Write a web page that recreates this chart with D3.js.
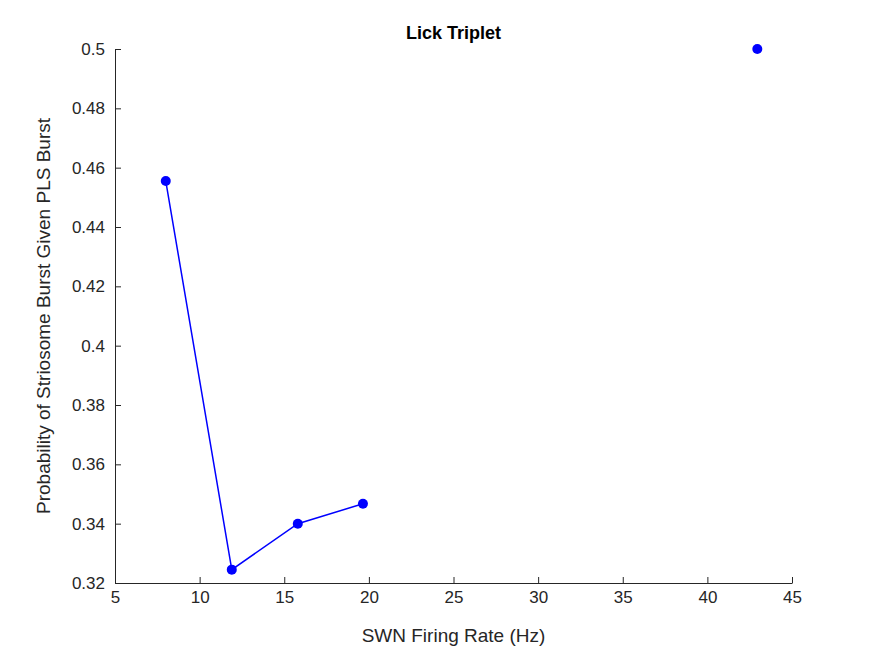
<html>
<head>
<script src="https://d3js.org/d3.v7.min.js"></script>
<style>
  body { margin: 0; background: #fff; }
  text { font-family: "Liberation Sans", Arial, sans-serif; fill: #262626; }
  .axis path, .axis line { stroke: #262626; }
  .axis text { font-size: 17px; font-family: "Liberation Sans", Arial, sans-serif; }
</style>
</head>
<body>
<div id="chart"></div>
<script>
// Data
const rates = [8.0, 11.9, 15.8, 19.65];
const probs = [0.4555, 0.3245, 0.340, 0.3467];
const loneRate = [42.95];
const loneProb = [0.5];
const xTicks = [5, 10, 15, 20, 25, 30, 35, 40, 45];
const yTicks = [0.32, 0.34, 0.36, 0.38, 0.4, 0.42, 0.44, 0.46, 0.48, 0.5];

const W = 875, H = 656;
const margin = { top: 49, right: 83, bottom: 73, left: 115 };
const w = W - margin.left - margin.right;
const h = H - margin.top - margin.bottom;

const x = d3.scaleLinear().domain([5, 45]).range([0, w]);
const y = d3.scaleLinear().domain([0.32, 0.5]).range([h, 0]);

const svg = d3.select('#chart').append('svg')
    .attr('width', W).attr('height', H);
const g = svg.append('g')
    .attr('transform', `translate(${margin.left},${margin.top})`);

// Axes, MATLAB style: ticks pointing inward
g.append('g').attr('class', 'axis')
    .attr('transform', `translate(0,${h})`)
    .attr('font-size', 17)
    .call(d3.axisBottom(x).tickValues(xTicks).tickSize(-6).tickPadding(8).tickSizeOuter(0));
g.append('g').attr('class', 'axis')
    .attr('font-size', 17)
    .call(d3.axisLeft(y).tickValues(yTicks).tickFormat(d => String(+d.toFixed(2))).tickSize(-6).tickPadding(10).tickSizeOuter(0));

// Line
const pts = rates.map((r, i) => [r, probs[i]]);
g.append('path')
    .datum(pts)
    .attr('fill', 'none')
    .attr('stroke', '#0000ff')
    .attr('stroke-width', 1.5)
    .attr('d', d3.line().x(d => x(d[0])).y(d => y(d[1])));

const all = pts.concat(loneRate.map((r, i) => [r, loneProb[i]]));
g.selectAll('circle')
    .data(all)
    .enter().append('circle')
    .attr('cx', d => x(d[0]))
    .attr('cy', d => y(d[1]))
    .attr('r', 5)
    .attr('fill', '#0000ff');

// Labels
svg.append('text')
    .attr('x', margin.left + w / 2).attr('y', 39)
    .attr('text-anchor', 'middle')
    .style('font-size', '18px').style('font-weight', 'bold')
    .style('fill', '#000')
    .text('Lick Triplet');
svg.append('text')
    .attr('x', margin.left + w / 2).attr('y', 642)
    .attr('text-anchor', 'middle')
    .style('font-size', '19px')
    .text('SWN Firing Rate (Hz)');
svg.append('text')
    .attr('transform', `translate(50,${margin.top + h / 2}) rotate(-90)`)
    .attr('text-anchor', 'middle')
    .style('font-size', '19px')
    .text('Probability of Striosome Burst Given PLS Burst');
</script>
</body>
</html>
